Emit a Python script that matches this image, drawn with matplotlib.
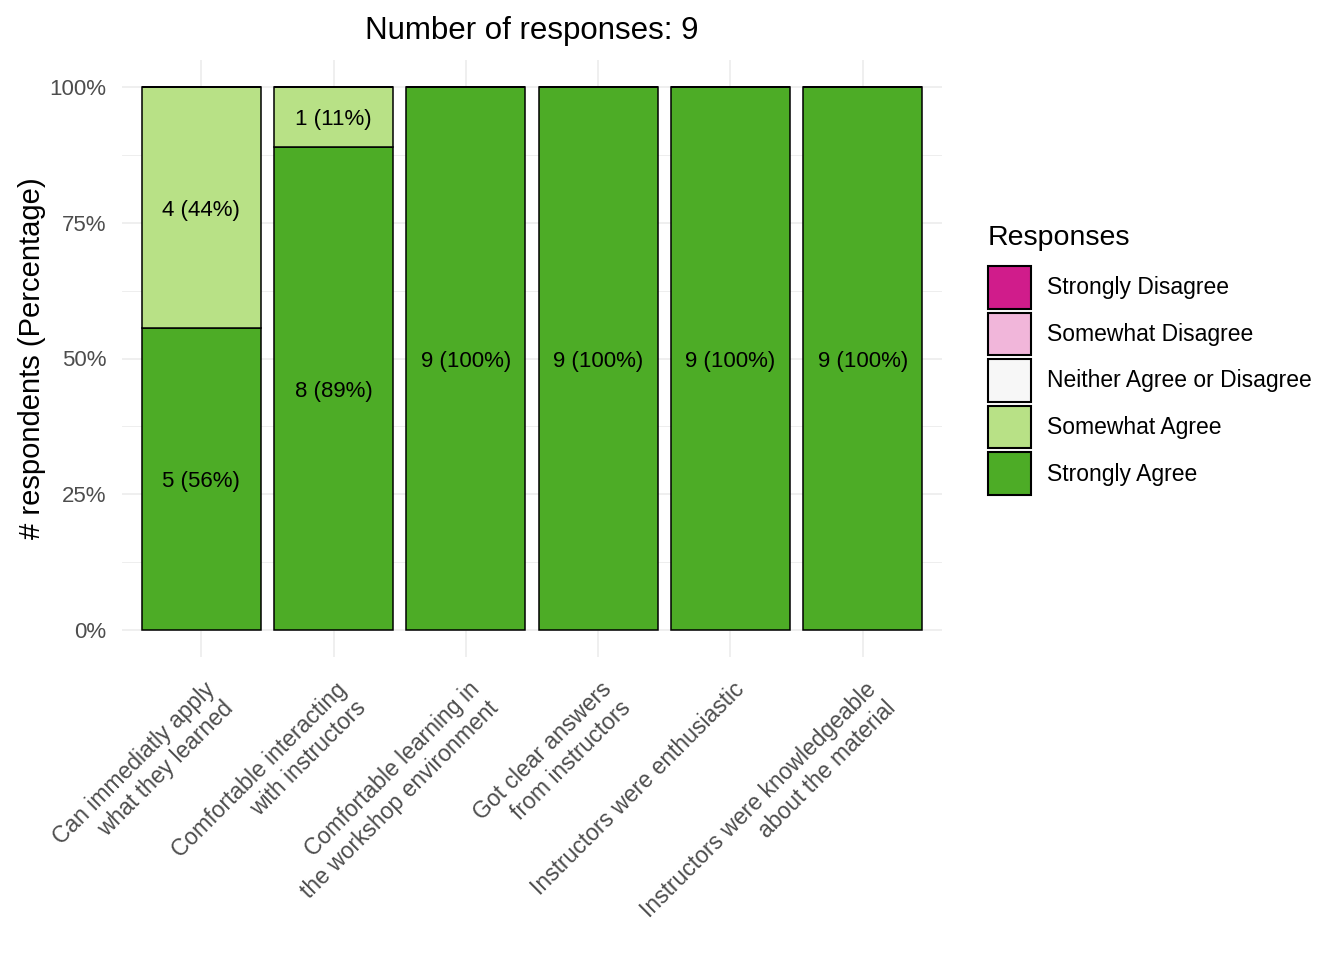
import numpy as np
import matplotlib
matplotlib.use("Agg")
from matplotlib import pyplot as plt
from matplotlib.patches import Patch
import matplotlib.transforms as mtransforms

plt.rcParams['font.family'] = ['Liberation Sans', 'DejaVu Sans']

# survey data
questions = ["Can immediatly apply\nwhat they learned",
             "Comfortable interacting\nwith instructors",
             "Comfortable learning in\nthe workshop environment",
             "Got clear answers\nfrom instructors",
             "Instructors were enthusiastic",
             "Instructors were knowledgeable\nabout the material"]
levels = ["Strongly Disagree", "Somewhat Disagree", "Neither Agree or Disagree",
          "Somewhat Agree", "Strongly Agree"]
strongly_disagree = [0, 0, 0, 0, 0, 0]
somewhat_disagree = [0, 0, 0, 0, 0, 0]
neither = [0, 0, 0, 0, 0, 0]
somewhat_agree = [4, 1, 0, 0, 0, 0]
strongly_agree = [5, 8, 9, 9, 9, 9]
n_responses = 9

colors = ["#D01C8B", "#F1B6DA", "#F7F7F7", "#B8E186", "#4DAC26"]

fig = plt.figure(figsize=(13.44, 9.6), dpi=100)
W, H = 1344, 960
ax = fig.add_axes([122 / W, (H - 657) / H, (942 - 122) / W, (657 - 60) / H])

x = np.arange(len(questions))
total = np.array(strongly_agree) + np.array(somewhat_agree) + np.array(neither) \
    + np.array(somewhat_disagree) + np.array(strongly_disagree)

# stack from bottom: strongly agree first
stack = [(strongly_agree, colors[4]), (somewhat_agree, colors[3]), (neither, colors[2]),
         (somewhat_disagree, colors[1]), (strongly_disagree, colors[0])]
bottom = np.zeros(len(x))
for vals, col in stack:
    vals = np.array(vals)
    frac = vals / total
    ax.bar(x, frac, 0.9, bottom=bottom, color=col, edgecolor='black', linewidth=1.1, zorder=3)
    for i in range(len(x)):
        if vals[i] > 0:
            ax.text(x[i], bottom[i] + frac[i] / 2, f"{vals[i]} ({round(100 * frac[i])}%)",
                    ha='center', va='center_baseline', fontsize=16, color='black', zorder=4)
    bottom = bottom + frac

ax.set_xlim(-0.6, len(x) - 0.4)
ax.set_ylim(-0.05, 1.05)
ax.set_yticks([0, 0.25, 0.5, 0.75, 1])
ax.set_yticklabels(["0%", "25%", "50%", "75%", "100%"])
ax.set_yticks([0.125, 0.375, 0.625, 0.875], minor=True)
ax.set_xticks(x)
ax.set_xticklabels(questions, rotation=45, ha='right', va='top', rotation_mode='anchor',
                   multialignment='right')
for s in ax.spines.values():
    s.set_visible(False)
ax.tick_params(axis='both', which='both', length=0, labelsize=16, labelcolor='#4D4D4D')
ax.tick_params(axis='x', labelsize=16.5)
ax.tick_params(axis='y', pad=11)
ax.tick_params(axis='x', pad=15)
ax.grid(True, which='major', color='#EBEBEB', linewidth=1.1, zorder=0)
ax.grid(True, which='minor', axis='y', color='#EBEBEB', linewidth=0.6, zorder=0)
ax.set_axisbelow(True)

offset = mtransforms.ScaledTranslation(0.02, 0, fig.dpi_scale_trans)
for lbl in ax.get_xticklabels():
    lbl.set_transform(lbl.get_transform() + offset)

ax.set_ylabel("# respondents (Percentage)", fontsize=21, labelpad=3)
ax.set_title("Number of responses: %d" % n_responses, fontsize=22.5, pad=15)

handles = [Patch(facecolor=c, edgecolor='black', linewidth=1.5) for c in colors]
fig.text(988 / W, 1 - 238 / H, "Responses", fontsize=20.5, ha='left', va='center')
leg = fig.legend(handles, levels, loc='upper left', bbox_to_anchor=(988 / W, 1 - 266 / H),
                 frameon=False, fontsize=16.5,
                 handlelength=1.88, handleheight=2.5,
                 labelspacing=0.16, handletextpad=0.68, borderpad=0, borderaxespad=0)

fig.savefig("out.png", dpi=100, facecolor='white')
